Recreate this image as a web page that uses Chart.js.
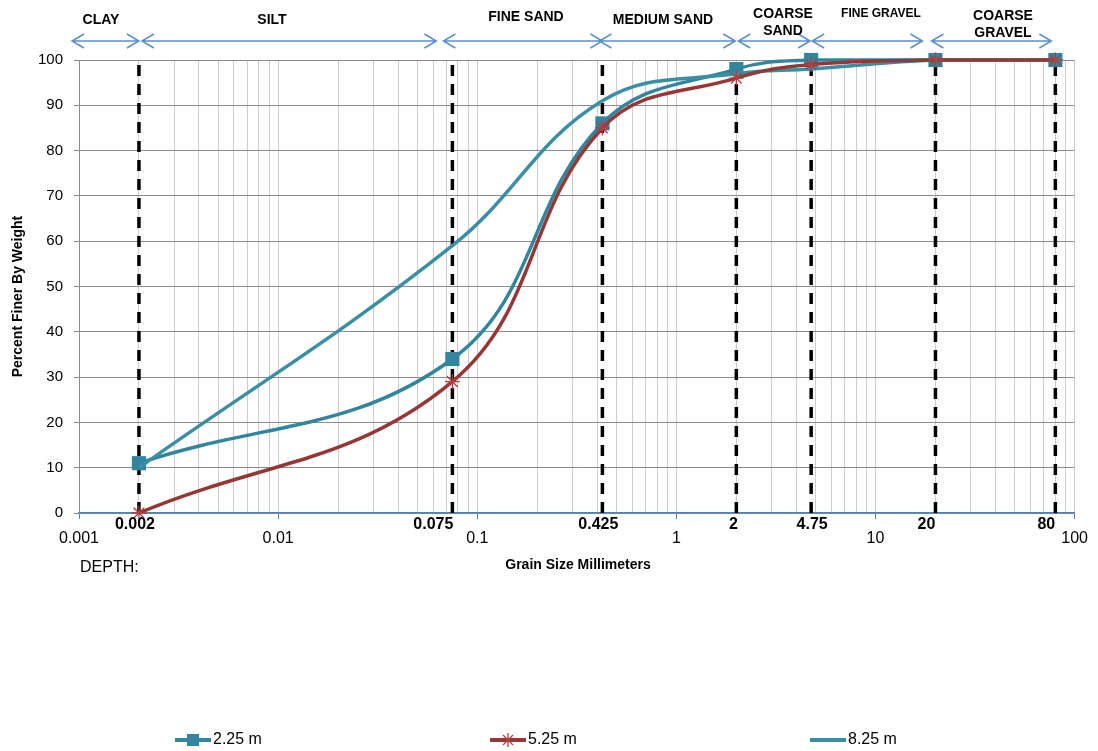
<!DOCTYPE html>
<html>
<head>
<meta charset="utf-8">
<script src="https://cdn.jsdelivr.net/npm/chart.js@4.4.1/dist/chart.umd.min.js"></script>
<style>
  body { margin: 0; background: #fff; }
  #wrap { width: 1098px; height: 751px; }
</style>
</head>
<body>
<div id="wrap"><canvas id="chart" width="1098" height="751"></canvas></div>
<script>
// sieve sizes (mm) where each sample was read, and boundaries between soil classes
const grainSizes = [0.002, 0.075, 0.425, 2, 4.75, 20, 80];
const sizeLabels = ['0.002', '0.075', '0.425', '2', '4.75', '20', '80'];

// percent finer by weight, one array per depth
const finer225 = [11, 34, 86, 98, 100, 100, 100];
const finer525 = [0, 29, 85, 96, 99, 100, 100];
const finer825 = [10, 59, 91, 97, 98, 100, 100];
const seriesNames = ['2.25 m', '5.25 m', '8.25 m'];

const decadeLabels = ['0.001', '0.01', '0.1', '1', '10', '100'];
const zoneBounds = [0.001, 0.002, 0.075, 0.425, 2, 4.75, 20, 80];
const zoneNames = [['CLAY'], ['SILT'], ['FINE SAND'], ['MEDIUM SAND'], ['COARSE', 'SAND'], ['FINE GRAVEL'], ['COARSE', 'GRAVEL']];

// layout tweaks for the hand placed text boxes
const zoneLabelX = [101, 272, 526, 663, 783, 881, 1003];
const zoneLabelY = [[20], [20], [17], [20], [14, 31], [14], [16, 33]];
const zoneArrowNudge = [[-7, 0], [3, -16], [-9, 0], [-3, -1], [2, -1], [1, -13], [-4, -4]];
const sizeLabelNudge = [-4, -19, -4, -3, 1, -9, -9];

const teal = '#31859c';
const teal2 = '#3a8ea5';
const red = '#953735';

const gridValues = [];
decadeLabels.forEach((lbl, i) => {
  const d = parseFloat(lbl);
  if (i === decadeLabels.length - 1) { gridValues.push(d); return; }
  for (let m = 1; m <= 9; m++) gridValues.push(m * d);
});

function isDecade(v) {
  const l = Math.log10(v);
  return Math.abs(l - Math.round(l)) < 1e-9;
}

function pts(vals) {
  return grainSizes.map((s, i) => ({ x: s, y: vals[i] }));
}

const dashSets = grainSizes.map(s => ({
  data: [{ x: s, y: 0 }, { x: s, y: 100 }],
  borderColor: '#000',
  borderWidth: 3.5,
  borderDash: [11, 8],
  pointRadius: 0,
  tension: 0,
  order: 10
}));

const annot = {
  id: 'annot',
  afterDraw(chart) {
    const ctx = chart.ctx;
    const xs = chart.scales.x;
    const area = chart.chartArea;
    ctx.save();
    ctx.fillStyle = '#000';
    ctx.textAlign = 'center';
    ctx.textBaseline = 'middle';

    // bold size labels under the dashed lines
    ctx.font = 'bold 16px "Liberation Sans", Arial, sans-serif';
    grainSizes.forEach((s, i) => {
      ctx.fillText(sizeLabels[i], xs.getPixelForValue(s) + sizeLabelNudge[i], 525);
    });

    // zone arrows
    ctx.strokeStyle = '#5b8fd0';
    ctx.lineWidth = 1.5;
    const ay = 41;
    for (let i = 0; i < zoneNames.length; i++) {
      const x1 = xs.getPixelForValue(zoneBounds[i]) + zoneArrowNudge[i][0];
      const x2 = xs.getPixelForValue(zoneBounds[i + 1]) + zoneArrowNudge[i][1];
      ctx.beginPath();
      ctx.moveTo(x1, ay); ctx.lineTo(x2, ay);
      ctx.moveTo(x1 + 12, ay - 7); ctx.lineTo(x1, ay); ctx.lineTo(x1 + 12, ay + 7);
      ctx.moveTo(x2 - 12, ay - 7); ctx.lineTo(x2, ay); ctx.lineTo(x2 - 12, ay + 7);
      ctx.stroke();
      ctx.font = (zoneNames[i][0] === 'FINE GRAVEL' ? 'bold 12px' : 'bold 14px') + ' "Liberation Sans", Arial, sans-serif';
      zoneNames[i].forEach((t, k) => ctx.fillText(t, zoneLabelX[i], zoneLabelY[i][k]));
    }

    // axis titles
    ctx.font = 'bold 14px "Liberation Sans", Arial, sans-serif';
    ctx.fillText('Grain Size Millimeters', 578, 565);
    ctx.save();
    ctx.translate(18, (area.top + area.bottom) / 2 + 10);
    ctx.rotate(-Math.PI / 2);
    ctx.fillText('Percent Finer By Weight', 0, 0);
    ctx.restore();

    ctx.textAlign = 'left';
    ctx.font = '16px "Liberation Sans", Arial, sans-serif';
    ctx.fillText('DEPTH:', 80, 568);

    // legend
    const legendX = [175, 490, 810];
    const markers = ['rect', 'star', null];
    const colors = [teal, red, teal2];
    ctx.font = '16px "Liberation Sans", Arial, sans-serif';
    seriesNames.forEach((name, i) => {
      const lx = legendX[i], ly = 740;
      ctx.strokeStyle = colors[i];
      ctx.lineWidth = 4;
      ctx.beginPath(); ctx.moveTo(lx, ly); ctx.lineTo(lx + 36, ly); ctx.stroke();
      if (markers[i] === 'rect') {
        ctx.fillStyle = colors[i];
        ctx.fillRect(lx + 12, ly - 6, 12, 12);
      } else if (markers[i] === 'star') {
        ctx.strokeStyle = '#b0403d';
        ctx.lineWidth = 1.3;
        ctx.beginPath();
        ctx.moveTo(lx + 18, ly - 7); ctx.lineTo(lx + 18, ly + 7);
        ctx.moveTo(lx + 13, ly - 5); ctx.lineTo(lx + 23, ly + 5);
        ctx.moveTo(lx + 23, ly - 5); ctx.lineTo(lx + 13, ly + 5);
        ctx.stroke();
      }
      ctx.fillStyle = '#000';
      ctx.fillText(name, lx + 38, ly);
    });
    ctx.restore();
  }
};

new Chart(document.getElementById('chart'), {
  type: 'line',
  data: {
    datasets: [
      {
        label: seriesNames[1], data: pts(finer525),
        borderColor: red, borderWidth: 3.5, tension: 0.4, clip: false,
        pointStyle: 'star', pointRadius: 7.5, pointBorderColor: '#b0403d',
        pointBorderWidth: 1.3, pointBackgroundColor: '#b0403d', order: 1
      },
      {
        label: seriesNames[2], data: pts(finer825),
        borderColor: teal2, borderWidth: 3.5, tension: 0.4, clip: false,
        pointRadius: 0, order: 2
      },
      {
        label: seriesNames[0], data: pts(finer225),
        borderColor: teal, borderWidth: 3.5, tension: 0.4, clip: false,
        pointStyle: 'rect', pointRadius: 10, pointBackgroundColor: teal,
        pointBorderColor: teal, pointBorderWidth: 0, order: 3
      },
      ...dashSets
    ]
  },
  options: {
    responsive: false,
    animation: false,
    layout: { padding: { top: 60, right: 21, left: 0, bottom: 0 } },
    plugins: { legend: { display: false }, tooltip: { enabled: false } },
    scales: {
      x: {
        type: 'logarithmic', min: 0.001, max: 100,
        afterBuildTicks: s => { s.ticks = gridValues.map(v => ({ value: v })); },
        afterFit: s => { s.height = 238; },
        grid: {
          color: '#cdcdcd', lineWidth: 1, tickLength: 6,
          tickColor: c => (c.tick && isDecade(c.tick.value)) ? '#4f81bd' : 'rgba(0,0,0,0)'
        },
        border: { color: '#4f81bd', width: 1.5 },
        ticks: {
          autoSkip: false, maxRotation: 0, minRotation: 0, padding: 10, color: '#000',
          font: { family: '"Liberation Sans", Arial, sans-serif', size: 16 },
          callback: v => isDecade(v) ? decadeLabels[Math.round(Math.log10(v)) + 3] : ''
        }
      },
      y: {
        min: 0, max: 100,
        afterFit: s => { s.width = 79; },
        grid: { color: '#8c8c8c', lineWidth: 1, tickLength: 5, tickColor: '#8c8c8c' },
        border: { color: '#8c8c8c', width: 1 },
        ticks: {
          stepSize: 10, padding: 11, color: '#000',
          font: { family: '"Liberation Sans", Arial, sans-serif', size: 15 }
        }
      }
    }
  },
  plugins: [annot]
});
</script>
</body>
</html>
